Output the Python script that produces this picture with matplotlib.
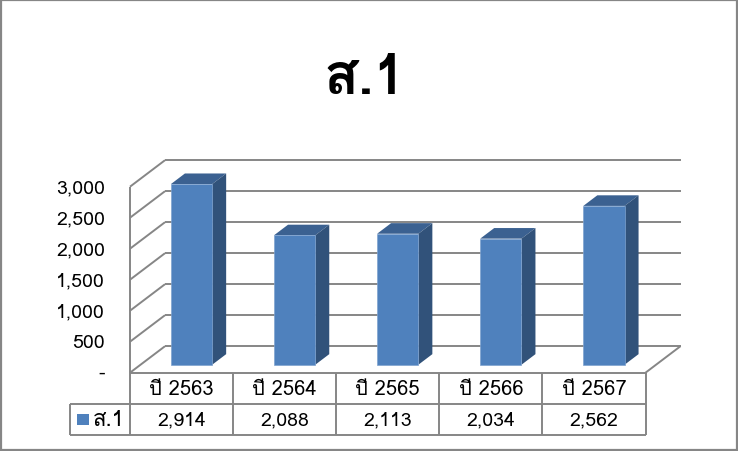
import matplotlib
matplotlib.use("Agg")
import matplotlib.pyplot as plt
from matplotlib.patches import Polygon, Rectangle

plt.rcParams['font.family'] = ['Loma', 'Noto Sans', 'DejaVu Sans']

title = "ส.1"
years = ["ปี 2563", "ปี 2564", "ปี 2565", "ปี 2566", "ปี 2567"]
values = [2914, 2088, 2113, 2034, 2562]
value_labels = ["2,914", "2,088", "2,113", "2,034", "2,562"]
y_ticks = [0, 500, 1000, 1500, 2000, 2500, 3000]
y_labels = ["-", "500", "1,000", "1,500", "2,000", "2,500", "3,000"]

W, H = 738, 452
GRAY = "#868686"

fig = plt.figure(figsize=(W / 100, H / 100), dpi=100)
fig.patch.set_facecolor("white")

# axes covers the front plane, x in categories, y in values
ax = fig.add_axes([130 / W, 1 - 373.7 / H, 515.5 / W, 186 / H])
ax.set_xlim(0, 5)
ax.set_ylim(0, 3000)
ax.axis("off")

DX = 35 / 103.1      # depth offset in category units
DY = 26.5 / 0.062    # depth offset in value units
ROW = 31.3 / 0.062   # table row height in value units


def pt(x, y, z=0):
    return (x + z * DX, y + z * DY)


def line(a, b, lw=1.4, zo=1):
    ax.plot([a[0], b[0]], [a[1], b[1]], color=GRAY, lw=lw, zorder=zo,
            clip_on=False, solid_capstyle="butt")


# floor, side wall and gridlines
for v in y_ticks:
    line(pt(0, v), pt(0, v, 1))
    line(pt(0, v, 1), pt(5, v, 1))
line(pt(0, 0), pt(0, 3000))
line(pt(0, 0), pt(5, 0))
line(pt(5, 0), pt(5, 0, 1))

for v, s in zip(y_ticks, y_labels):
    ax.text(-0.243, v - 6, s, ha="right", va="center", fontsize=14, color="black", clip_on=False)

# bars
gap, width = 0.295, 0.4
z0, z1 = 0.3, 0.7
for i, v in enumerate(values):
    xa, xb = i + gap, i + gap + width
    ax.add_patch(Polygon([pt(xa, v, z0), pt(xb, v, z0), pt(xb, v, z1), pt(xa, v, z1)],
                         facecolor="#3B6191", edgecolor="none", zorder=3, clip_on=False))
    ax.add_patch(Polygon([pt(xb, 0, z0), pt(xb, 0, z1), pt(xb, v, z1), pt(xb, v, z0)],
                         facecolor="#31527A", edgecolor="none", zorder=3, clip_on=False))
    ax.add_patch(Polygon([pt(xa, 0, z0), pt(xb, 0, z0), pt(xb, v, z0), pt(xa, v, z0)],
                         facecolor="#4F81BD", edgecolor="#7FA3D0", lw=0.5, zorder=4, clip_on=False))

# data table
leg_x = -60 / 103.1
for i in range(6):
    line((i, 0), (i, -2 * ROW), zo=5)
line((0, -ROW), (5, -ROW), zo=5)
line((leg_x, -ROW), (0, -ROW), zo=5)
line((leg_x, -2 * ROW), (5, -2 * ROW), zo=5)
line((leg_x, -ROW), (leg_x, -2 * ROW), zo=5)
for i in range(5):
    ax.text(i + 0.5, -0.5 * ROW, years[i], ha="center", va="center", fontsize=14.5, clip_on=False)
    ax.text(i + 0.5, -1.5 * ROW, value_labels[i], ha="center", va="center", fontsize=14, clip_on=False)
ax.add_patch(Rectangle((-53 / 103.1, -1.5 * ROW - 90), 12 / 103.1, 180, facecolor="#4F81BD",
                       edgecolor="none", zorder=5, clip_on=False))
ax.text(-37 / 103.1, -1.5 * ROW, title, ha="left", va="center", fontsize=16, clip_on=False)

# title and outer frame
fig.text(365 / W, 1 - 79 / H, title, ha="center", va="center", fontsize=41, fontweight="bold")
fig.add_artist(Rectangle((1 / W, 1 / H), 735.5 / W, 450 / H, transform=fig.transFigure,
                         facecolor="none", edgecolor=GRAY, lw=1.6))

fig.savefig("out.png", dpi=100)
